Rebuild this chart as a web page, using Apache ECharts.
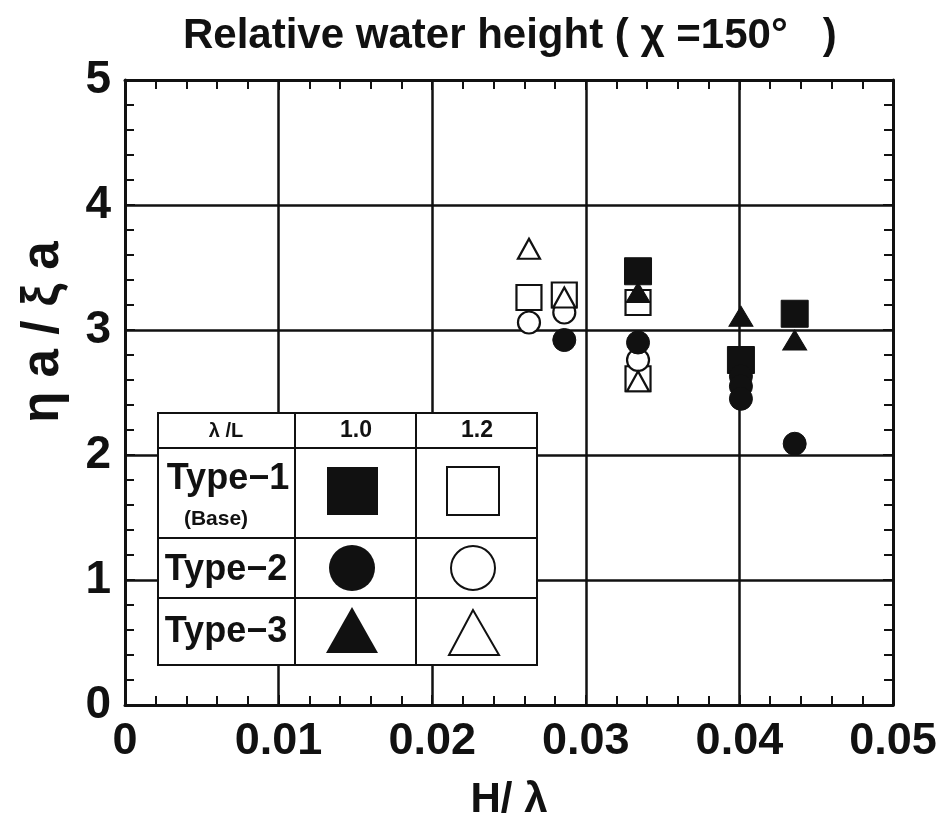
<!DOCTYPE html>
<html>
<head>
<meta charset="utf-8">
<script src="https://cdn.jsdelivr.net/npm/echarts@6/dist/echarts.min.js"></script>
<style>
html,body{margin:0;padding:0;background:#fff;}
#chart{width:940px;height:817px;}
</style>
</head>
<body>
<div id="chart"></div>
<script>
// H/λ 与 ηa/ξa 的读数
var type1L10 = [[0.0334, 3.47], [0.0401, 2.76], [0.0436, 3.13]];
var type1L12 = [[0.0263, 3.26], [0.0286, 3.28], [0.0334, 3.22], [0.0334, 2.61]];
var type2L10 = [[0.0286, 2.92], [0.0334, 2.90], [0.0401, 2.63], [0.0401, 2.55], [0.0401, 2.45], [0.0436, 2.09]];
var type2L12 = [[0.0263, 3.06], [0.0286, 3.14], [0.0334, 2.76]];
var type3L10 = [[0.0334, 3.30], [0.0401, 3.11], [0.0436, 2.92]];
var type3L12 = [[0.0263, 3.65], [0.0286, 3.26], [0.0334, 2.59]];

var xTicks = [0, 0.01, 0.02, 0.03, 0.04, 0.05];
var yTicks = [0, 1, 2, 3, 4, 5];

var numFont = '"Liberation Sans Narrow","Liberation Sans",Arial,sans-serif';
var tableFont = '"Liberation Sans",Arial,sans-serif';

var chart = echarts.init(document.getElementById('chart'));

function axisBase(show)
{
	return {
		axisLine: {show: true, onZero: false, lineStyle: {color: '#111', width: 3}},
		axisTick: {show: true, inside: true, length: 10, lineStyle: {color: '#111', width: 2}},
		minorTick: {show: true, splitNumber: 5, length: 9, lineStyle: {color: '#111', width: 2}},
		splitLine: {show: show, lineStyle: {color: '#111', width: 2.5}}
	};
}

var xBottom = Object.assign(axisBase(true), {
	type: 'value', position: 'bottom', min: xTicks[0], max: xTicks[xTicks.length - 1], interval: 0.01,
	name: 'H/ λ', nameLocation: 'middle', nameGap: 74,
	nameTextStyle: {fontFamily: numFont, fontWeight: 'bold', fontSize: 42, color: '#111'},
	axisLabel: {
		margin: 14, fontFamily: numFont, fontWeight: 'bold', fontSize: 45, color: '#111',
		formatter: function (v) { return v === 0 ? '0' : v.toFixed(2); }
	}
});
var xTop = Object.assign(axisBase(false), {
	type: 'value', position: 'top', min: 0, max: 0.05, interval: 0.01, axisLabel: {show: false}
});
var yLeft = Object.assign(axisBase(true), {
	type: 'value', position: 'left', min: yTicks[0], max: yTicks[yTicks.length - 1], interval: 1,
	axisLabel: {margin: 14, fontFamily: numFont, fontWeight: 'bold', fontSize: 46, color: '#111'}
});
var yRight = Object.assign(axisBase(false), {
	type: 'value', position: 'right', min: 0, max: 5, interval: 1, axisLabel: {show: false}
});

function serie(name, data, symbol, size, filled)
{
	return {
		type: 'scatter', name: name, data: data, symbol: symbol, symbolSize: size,
		itemStyle: filled ? {color: '#111', borderColor: '#111', borderWidth: 1, opacity: 1}
			: {color: '#fff', borderColor: '#111', borderWidth: 2.2, opacity: 1},
		z: filled ? 4 : 3
	};
}

// 表格图例
var tl = 158, tr = 537, tt = 413, tb = 665;
var c1 = 295, c2 = 416;
var r1 = 448, r2 = 538, r3 = 598;
var lineStyle = {stroke: '#111', lineWidth: 2};
var table = [
	{type: 'rect', shape: {x: tl, y: tt, width: tr - tl, height: tb - tt}, style: {fill: '#fff', stroke: '#111', lineWidth: 2}},
	{type: 'line', shape: {x1: c1, y1: tt, x2: c1, y2: tb}, style: lineStyle},
	{type: 'line', shape: {x1: c2, y1: tt, x2: c2, y2: tb}, style: lineStyle},
	{type: 'line', shape: {x1: tl, y1: r1, x2: tr, y2: r1}, style: lineStyle},
	{type: 'line', shape: {x1: tl, y1: r2, x2: tr, y2: r2}, style: lineStyle},
	{type: 'line', shape: {x1: tl, y1: r3, x2: tr, y2: r3}, style: lineStyle},
	{type: 'text', x: 226, y: 431, style: {text: 'λ /L', fontFamily: tableFont, fontWeight: 'bold', fontSize: 20, fill: '#111', align: 'center', verticalAlign: 'middle'}},
	{type: 'text', x: 356, y: 431, style: {text: '1.0', fontFamily: tableFont, fontWeight: 'bold', fontSize: 23, fill: '#111', align: 'center', verticalAlign: 'middle'}},
	{type: 'text', x: 477, y: 431, style: {text: '1.2', fontFamily: tableFont, fontWeight: 'bold', fontSize: 23, fill: '#111', align: 'center', verticalAlign: 'middle'}},
	{type: 'text', x: 228, y: 479, style: {text: 'Type−1', fontFamily: tableFont, fontWeight: 'bold', fontSize: 36, fill: '#111', align: 'center', verticalAlign: 'middle'}},
	{type: 'text', x: 216, y: 519, style: {text: '(Base)', fontFamily: tableFont, fontWeight: 'bold', fontSize: 21, fill: '#111', align: 'center', verticalAlign: 'middle'}},
	{type: 'text', x: 226, y: 570, style: {text: 'Type−2', fontFamily: tableFont, fontWeight: 'bold', fontSize: 36, fill: '#111', align: 'center', verticalAlign: 'middle'}},
	{type: 'text', x: 226, y: 632, style: {text: 'Type−3', fontFamily: tableFont, fontWeight: 'bold', fontSize: 36, fill: '#111', align: 'center', verticalAlign: 'middle'}},
	{type: 'rect', shape: {x: 327, y: 467, width: 51, height: 48}, style: {fill: '#111'}},
	{type: 'rect', shape: {x: 447, y: 467, width: 52, height: 48}, style: {fill: '#fff', stroke: '#111', lineWidth: 2}},
	{type: 'circle', shape: {cx: 352, cy: 568, r: 23}, style: {fill: '#111'}},
	{type: 'circle', shape: {cx: 473, cy: 568, r: 22}, style: {fill: '#fff', stroke: '#111', lineWidth: 2}},
	{type: 'polygon', shape: {points: [[352, 607], [326, 653], [378, 653]]}, style: {fill: '#111'}},
	{type: 'polygon', shape: {points: [[473, 610], [449, 655], [499, 655]]}, style: {fill: '#fff', stroke: '#111', lineWidth: 2}},
	// y轴标题
	{type: 'text', x: 44, y: 332, rotation: Math.PI / 2,
		style: {text: 'η a / ξ a', fontFamily: numFont, fontWeight: 'bold', fontSize: 51, fill: '#111', align: 'center', verticalAlign: 'middle'}}
];
for (var i = 0; i < table.length; i++)
{
	table[i].z = 100;
	table[i].silent = true;
}

var option = {
	backgroundColor: '#fff',
	animation: false,
	title: {
		text: 'Relative water height ( χ =150°   )', left: 178, top: 10,
		textStyle: {fontFamily: numFont, fontWeight: 'bold', fontSize: 42, color: '#111'}
	},
	grid: {left: 125, right: 47, top: 80, bottom: 112, containLabel: false, outerBoundsMode: 'none'},
	xAxis: [xBottom, xTop],
	yAxis: [yLeft, yRight],
	series: [
		serie('Type-1 1.2', type1L12, 'rect', 25, false),
		serie('Type-2 1.2', type2L12, 'circle', 22, false),
		serie('Type-3 1.2', type3L12, 'triangle', [22, 20], false),
		serie('Type-1 1.0', type1L10, 'rect', 27, true),
		serie('Type-2 1.0', type2L10, 'circle', 23, true),
		serie('Type-3 1.0', type3L10, 'triangle', [24, 20], true)
	],
	graphic: table
};
chart.setOption(option);
</script>
</body>
</html>
